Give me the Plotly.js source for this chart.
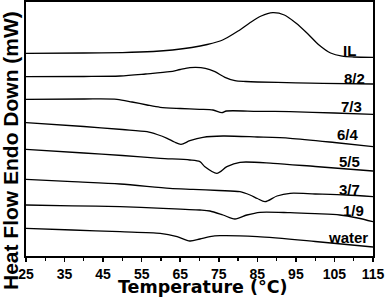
<!DOCTYPE html>
<html>
<head>
<meta charset="utf-8">
<script src="https://cdn.plot.ly/plotly-3.0.1.min.js"></script>
<style>html,body{margin:0;padding:0;background:#fff;}#chart{width:386px;height:297px;}</style>
</head>
<body>
<div id="chart"></div>
<script>
// Temperatures (°C) and heat-flow readings (arbitrary offset units) for each sample
const IL_T  = [25, 40, 50, 58, 63, 68, 72, 76, 80, 83, 86, 89, 92, 95, 98, 101, 104, 107, 110, 115];
const IL_Y  = [202.7, 203, 203.4, 204.5, 206, 208.5, 211.5, 216, 225, 233, 240, 243.3, 241, 233, 222.5, 211, 203, 199.8, 199, 198.7];

const S82_T = [25, 40, 49.4, 56, 62.3, 65, 67.5, 69, 71.5, 74, 76.6, 79.2, 82, 85, 95, 102, 115];
const S82_Y = [179.3, 179.5, 180, 182, 184.3, 186.5, 188.3, 188.7, 187.7, 184.3, 178.7, 175.3, 174.5, 174, 173.2, 172.7, 172];

const S73_T = [25, 40, 48.6, 52.5, 56.4, 59.8, 65, 70, 73.5, 75.8, 77, 85, 93.5, 105, 115];
const S73_Y = [156.7, 157, 156.7, 154, 151, 148.7, 147.5, 146.7, 146, 143.3, 145, 144.7, 144.3, 143, 141.7];

const S64_T = [25, 40, 50, 56.4, 59, 61.6, 63.5, 65.2, 67.5, 70.9, 76.1, 85, 93.5, 105, 115];
const S64_Y = [133.3, 129.5, 126.5, 124.3, 121.5, 117.7, 114, 111.7, 115.3, 118.7, 120, 119, 117.7, 113.5, 109.3];

const S55_T = [25, 40, 50, 59.8, 67.5, 70.1, 71.4, 74.5, 77.1, 80.5, 89.1, 100, 115];
const S55_Y = [106.7, 103, 100.5, 97.7, 96, 94.3, 89.3, 82.7, 89.3, 93.7, 92.7, 89.5, 85];

const S37_T = [25, 37, 49.4, 62.3, 68.3, 75, 80.5, 83.1, 85, 87, 90.1, 93.5, 100, 108, 115];
const S37_Y = [76.7, 74.3, 72, 67.7, 66.7, 65.5, 64.3, 61, 57.5, 54.3, 60, 62.7, 62, 61, 59.3];

const S19_T = [25, 37, 49.4, 60.5, 70.1, 72.7, 76.1, 79.2, 82.3, 85.7, 93.5, 100, 106.4, 111, 115];
const S19_Y = [51, 50.2, 49.3, 47.7, 46, 45, 41, 37, 41, 43.7, 43.3, 42.3, 41, 38, 34.3];

const W_T   = [25, 37, 49.4, 59.8, 64.2, 67.5, 70.1, 72.7, 75.3, 85, 100, 115];
const W_Y   = [27.7, 26, 24.3, 22.7, 19.3, 15, 17, 19.3, 20.3, 19.3, 14.5, 9];

const seriesNames = ['IL', '8/2', '7/3', '6/4', '5/5', '3/7', '1/9', 'water'];
const seriesT = [IL_T, S82_T, S73_T, S64_T, S55_T, S37_T, S19_T, W_T];
const seriesY = [IL_Y, S82_Y, S73_Y, S64_Y, S55_Y, S37_Y, S19_Y, W_Y];

// Label anchor positions (temperature, heat-flow units)
const labelT = [108.8, 110.1, 109.5, 108.6, 109.0, 109.0, 109.9, 108.6];
const labelY = [206, 178, 149.5, 121.5, 94.5, 67, 45.5, 19];

const tickVals = [25, 35, 45, 55, 65, 75, 85, 95, 105, 115];
const minorVals = [30, 40, 50, 60, 70, 80, 90, 100, 110];

const FONT = 'Liberation Sans, Arial, sans-serif';
const WIDE = 'DejaVu Sans, Verdana, sans-serif';

const traces = seriesNames.map((n, i) => ({
  x: seriesT[i], y: seriesY[i], name: n, type: 'scatter', mode: 'lines',
  line: {color: '#000', width: 1.3, shape: 'spline', smoothing: 0.8},
  hoverinfo: 'skip'
}));

const annotations = seriesNames.map((n, i) => ({
  x: labelT[i], y: labelY[i], xref: 'x', yref: 'y', text: '<b>' + n + '</b>',
  showarrow: false, xanchor: 'center', yanchor: 'middle',
  font: {family: FONT, size: 15, color: '#000'}
}));

annotations.push({
  xref: 'paper', yref: 'paper', x: 0, xshift: -16, y: (256 - 151) / 254,
  text: '<b>Heat Flow Endo Down (mW)</b>', textangle: -90, showarrow: false,
  xanchor: 'center', yanchor: 'middle',
  font: {family: FONT, size: 21, color: '#000'}
});
annotations.push({
  xref: 'paper', yref: 'paper', x: (203 - 26) / 347, y: 0, yshift: -31,
  text: '<b>Temperature (°C)</b>', showarrow: false,
  xanchor: 'center', yanchor: 'middle',
  font: {family: WIDE, size: 17.5, color: '#000'}
});

const layout = {
  width: 386, height: 297,
  margin: {l: 26, r: 13, t: 2, b: 41, pad: 0},
  paper_bgcolor: '#fff', plot_bgcolor: '#fff',
  showlegend: false,
  xaxis: {
    range: [25, 115], tickmode: 'array', tickvals: tickVals,
    ticktext: tickVals.map(v => '<b>' + v + '</b>'),
    ticks: 'outside', ticklen: 4, tickwidth: 1.5, tickcolor: '#000',
    minor: {tickmode: 'array', tickvals: minorVals, ticks: 'outside', ticklen: 3, tickwidth: 1.2, tickcolor: '#000', showgrid: false},
    showline: true, linewidth: 2, linecolor: '#000', mirror: true,
    showgrid: false, zeroline: false,
    tickfont: {family: FONT, size: 14, color: '#000'}
  },
  yaxis: {
    range: [0, 254], showticklabels: false, ticks: '',
    showline: true, linewidth: 2, linecolor: '#000', mirror: true,
    showgrid: false, zeroline: false
  },
  annotations: annotations
};

Plotly.newPlot('chart', traces, layout, {displayModeBar: false, staticPlot: true});
</script>
</body>
</html>
